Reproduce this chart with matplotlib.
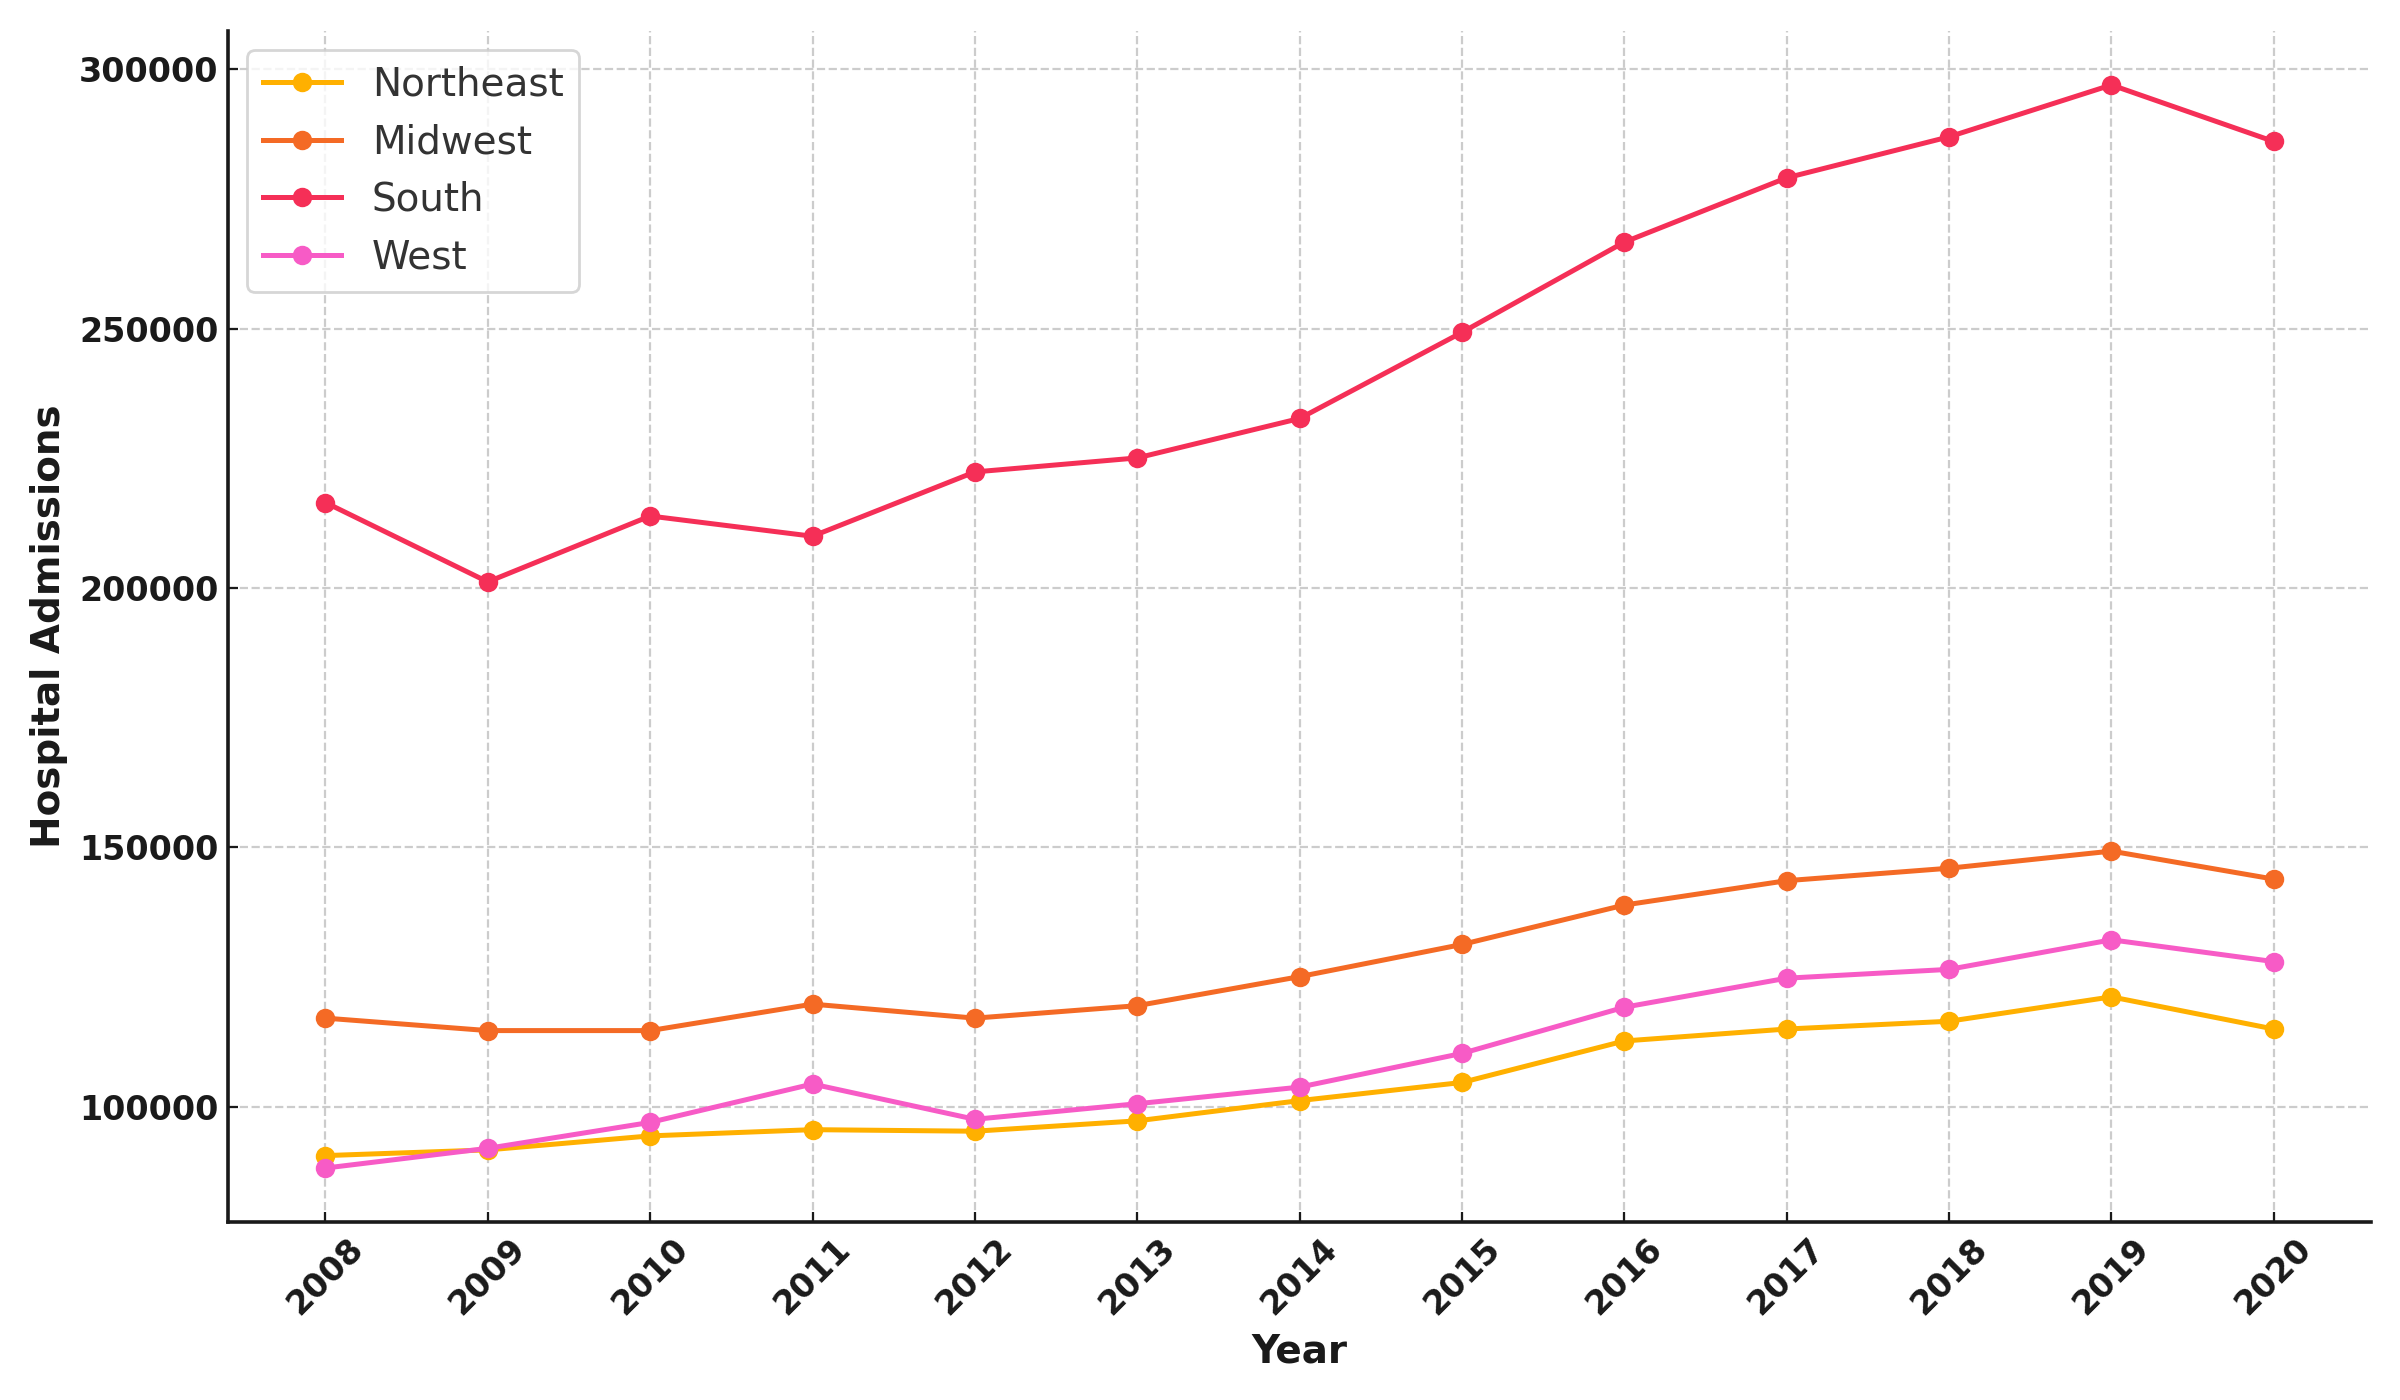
import matplotlib
matplotlib.use("Agg")
import matplotlib.pyplot as plt

years = [2008, 2009, 2010, 2011, 2012, 2013, 2014, 2015, 2016, 2017, 2018, 2019, 2020]
northeast = [90600, 91700, 94400, 95600, 95300, 97300, 101200, 104700, 112700, 115000, 116500, 121200, 115000]
midwest = [117100, 114700, 114700, 119800, 117100, 119500, 125100, 131300, 138900, 143600, 146000, 149300, 143900]
south = [216500, 201200, 213900, 210000, 222400, 225100, 232700, 249300, 266700, 279100, 287000, 297000, 286100]
west = [88200, 92000, 97000, 104400, 97600, 100600, 103800, 110300, 119200, 124800, 126500, 132200, 128000]

series = [("Northeast", northeast, "#FFB000"),
          ("Midwest", midwest, "#F46A25"),
          ("South", south, "#F52F57"),
          ("West", west, "#F75BC6")]

fig, ax = plt.subplots(figsize=(12, 7), dpi=200)
for name, vals, col in series:
    ax.plot(years, vals, marker='o', color=col, label=name, linewidth=1.8, markersize=6)

ax.set_xticks(years)
ax.set_xticklabels([str(y) for y in years], rotation=45, fontweight='bold', fontsize=12, color='#1a1a1a')
for lab in ax.get_yticklabels():
    lab.set_fontweight('bold')
ax.tick_params(axis='y', labelsize=12, labelcolor='#1a1a1a')
ax.tick_params(direction='in', color='#1a1a1a')
ax.set_xlabel("Year", fontsize=14, fontweight='bold', color='#1a1a1a')
ax.set_ylabel("Hospital Admissions", fontsize=14, fontweight='bold', color='#1a1a1a')
ax.grid(True, linestyle='--', color='#cccccc', linewidth=0.8)
ax.spines['top'].set_visible(False)
ax.spines['right'].set_visible(False)
ax.spines['left'].set_linewidth(1.3)
ax.spines['bottom'].set_linewidth(1.3)
ax.spines['left'].set_color('#1a1a1a')
ax.spines['bottom'].set_color('#1a1a1a')
leg = ax.legend(loc='upper left', fontsize=14)
for t in leg.get_texts():
    t.set_color('#333333')

fig.subplots_adjust(left=0.095, right=0.988, top=0.978, bottom=0.127)
plt.savefig("out.png")
